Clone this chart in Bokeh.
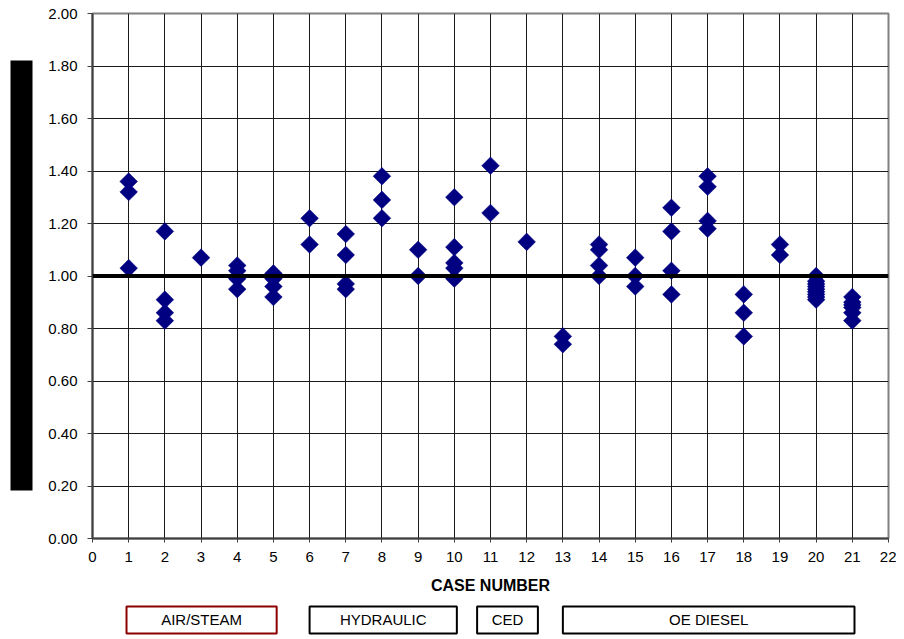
from bokeh.plotting import figure
from bokeh.layouts import row, column
from bokeh.models import (ColumnDataSource, Span, BoxAnnotation, Label, FixedTicker,
                          NumeralTickFormatter, Range1d)
from bokeh.embed import file_html
from bokeh.resources import INLINE

# ---- data ----
case_number = ([1] * 3 + [2] * 4 + [3] * 1 + [4] * 4 + [5] * 4 + [6] * 2 + [7] * 4 +
               [8] * 3 + [9] * 2 + [10] * 5 + [11] * 2 + [12] * 1 + [13] * 2 +
               [14] * 4 + [15] * 3 + [16] * 4 + [17] * 4 + [18] * 3 + [19] * 2 +
               [20] * 9 + [21] * 6)
ratio = [1.36, 1.32, 1.03,
         1.17, 0.91, 0.86, 0.83,
         1.07,
         1.04, 1.02, 0.99, 0.95,
         1.01, 0.99, 0.96, 0.92,
         1.22, 1.12,
         1.16, 1.08, 0.97, 0.95,
         1.38, 1.29, 1.22,
         1.10, 1.00,
         1.30, 1.11, 1.05, 1.03, 0.99,
         1.42, 1.24,
         1.13,
         0.77, 0.74,
         1.12, 1.10, 1.04, 1.00,
         1.07, 1.00, 0.96,
         1.26, 1.17, 1.02, 0.93,
         1.38, 1.34, 1.21, 1.18,
         0.93, 0.86, 0.77,
         1.12, 1.08,
         1.00, 0.98, 0.97, 0.96, 0.95, 0.94, 0.93, 0.92, 0.91,
         0.92, 0.90, 0.89, 0.88, 0.86, 0.83]
reference_ratio = 1.0
x_ticks = list(range(0, 23))
y_ticks = [0.0, 0.2, 0.4, 0.6, 0.8, 1.0, 1.2, 1.4, 1.6, 1.8, 2.0]

group_names = ["AIR/STEAM", "HYDRAULIC", "CED", "OE DIESEL"]
group_left = [0.94, 6.0, 10.63, 13.0]
group_right = [5.09, 10.07, 12.31, 21.06]
group_border = ["#8B0000", "black", "black", "black"]

FONT = "Liberation Sans"
BAR_W = 34
TOTAL_H = 636
MAIN_H = 598

# ---- left strip with the redaction bar ----
bar = figure(width=BAR_W, height=TOTAL_H, output_backend="svg", toolbar_location=None,
             x_range=Range1d(0, 1), y_range=Range1d(0, 1),
             min_border_left=0, min_border_right=0, min_border_top=0, min_border_bottom=0)
bar.axis.visible = False
bar.grid.visible = False
bar.outline_line_color = None
bar.add_layout(BoxAnnotation(left=10, right=32, top=60, bottom=490,
                             left_units="canvas", right_units="canvas",
                             top_units="canvas", bottom_units="canvas",
                             fill_color="black", fill_alpha=1, line_color=None))

# ---- main chart ----
p = figure(width=896 - BAR_W, height=MAIN_H, output_backend="svg", toolbar_location=None,
           x_range=Range1d(0, 22), y_range=Range1d(0, 2),
           min_border_left=92 - BAR_W, min_border_right=8, min_border_top=13,
           min_border_bottom=MAIN_H - 538)
p.outline_line_color = "#808080"
p.outline_line_width = 2

for ax in (p.xaxis[0], p.yaxis[0]):
    ax.axis_line_color = "#404040"
    ax.axis_line_width = 2
    ax.major_tick_line_color = "#404040"
    ax.major_tick_in = 0
    ax.minor_tick_line_color = None
    ax.major_label_text_font = FONT
    ax.major_label_text_font_size = "15px"
    ax.major_label_text_color = "black"

p.xaxis.ticker = FixedTicker(ticks=x_ticks)
p.yaxis.ticker = FixedTicker(ticks=y_ticks)
p.yaxis.formatter = NumeralTickFormatter(format="0.00")
p.xaxis.major_tick_out = 4
p.yaxis.major_tick_out = 5
p.xaxis.major_label_standoff = 9
p.yaxis.major_label_standoff = 10

p.xaxis.axis_label = "CASE NUMBER"
p.xaxis.axis_label_text_font = FONT
p.xaxis.axis_label_text_font_style = "bold"
p.xaxis.axis_label_text_font_size = "16px"
p.xaxis.axis_label_text_color = "black"
p.xaxis.axis_label_standoff = 12

p.xgrid.ticker = FixedTicker(ticks=x_ticks)
p.ygrid.ticker = FixedTicker(ticks=y_ticks)
for g in (p.xgrid[0], p.ygrid[0]):
    g.grid_line_color = "#1a1a1a"
    g.grid_line_width = 1

p.add_layout(Span(location=reference_ratio, dimension="width", line_color="black", line_width=4))

src = ColumnDataSource(dict(x=case_number, y=ratio))
p.scatter("x", "y", source=src, marker="square", angle=0.785398, size=12.5,
          fill_color="#000080", line_color="#000080", line_width=0.5)

# ---- group boxes under the chart ----
leg = figure(width=896 - BAR_W, height=TOTAL_H - MAIN_H, output_backend="svg",
             toolbar_location=None, x_range=p.x_range, y_range=Range1d(0, 1),
             min_border_left=92 - BAR_W, min_border_right=8, min_border_top=0,
             min_border_bottom=0)
leg.axis.visible = False
leg.grid.visible = False
leg.outline_line_color = None
for name, l, r, c in zip(group_names, group_left, group_right, group_border):
    leg.add_layout(BoxAnnotation(left=l, right=r, top=8, bottom=35,
                                 left_units="data", right_units="data",
                                 top_units="canvas", bottom_units="canvas",
                                 fill_color="white", fill_alpha=1,
                                 line_color=c, line_width=2, line_alpha=1))
    leg.add_layout(Label(x=(l + r) / 2, y=21, x_units="data", y_units="canvas",
                         text=name, text_align="center", text_baseline="middle",
                         text_font=FONT, text_font_size="15px", text_color="black"))

layout = row(bar, column(p, leg, spacing=0), spacing=0)
open("out.html", "w").write(file_html(layout, INLINE))
